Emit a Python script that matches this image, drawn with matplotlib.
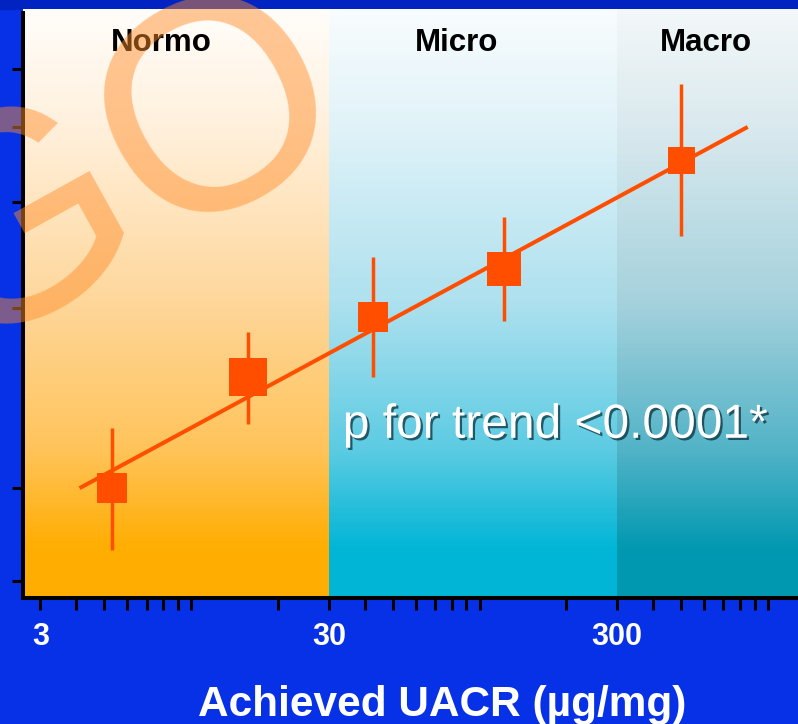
import numpy as np
import matplotlib
matplotlib.use('Agg')
import matplotlib.pyplot as plt
import matplotlib.patheffects as pe
from matplotlib.colors import LinearSegmentedColormap
from matplotlib.ticker import FixedLocator, LogLocator, NullFormatter, NullLocator
from matplotlib.patches import Rectangle

plt.rcParams['font.family'] = ['Liberation Sans', 'DejaVu Sans']

# albuminuria groups and their UACR limits
regions = ['Normo', 'Micro', 'Macro']
region_bounds = [(2.6, 30), (30, 300), (300, 1270)]
region_label_x = [7.9, 83, 610]

# achieved UACR and relative risk with 95% CI
uacr = [5.3, 15.7, 42.6, 121, 500]
risk = [1.0, 1.53, 1.93, 2.32, 3.52]
risk_lo = [0.79, 1.28, 1.53, 1.90, 2.63]
risk_hi = [1.26, 1.82, 2.43, 2.83, 4.71]

# fitted trend line end points
trend_x = [4.1, 850]
trend_y = [1.0, 4.0]

x_labels = ['3', '30', '300']
x_label_pos = [3, 30, 300]
y_tick_pos = [0.7, 1, 2, 3, 4, 5]

orange = '#ff4e00'
marker_px = [30, 38, 30, 34, 27]

fig = plt.figure(figsize=(7.98, 7.24), dpi=100)
fig.patch.set_facecolor('#0631e6')
fig.add_artist(Rectangle((0, 1 - 9 / 724), 1, 9 / 724, transform=fig.transFigure,
                         color='#0023c2', zorder=0))

ax = fig.add_axes([22.5 / 798, 126 / 724, 775.5 / 798, 589 / 724])
ax.set_xscale('log')
ax.set_yscale('log')
ax.set_xlim(2.6, 1270)
ax.set_ylim(0.656, 6.29)
ax.patch.set_visible(False)

# vertical gradients for each region (top -> bottom)
stops = {
    'Normo': ['#fffdfa', '#fff0dc', '#fed69a', '#ffc35a', '#ffad00', '#ffad00'],
    'Micro': ['#f8fcfd', '#e0f2f8', '#ade0ee', '#5ccbe2', '#00b5d5', '#00b5d5'],
    'Macro': ['#f3f7f8', '#d9e9ee', '#a5d1dc', '#52b3c7', '#0098b0', '#0098b0'],
}
pos = [0.0, 0.2, 0.5, 0.75, 0.92, 1.0]
ygrid = np.linspace(0, 1, 300)
for name, (x0, x1) in zip(regions, region_bounds):
    cmap = LinearSegmentedColormap.from_list(name, list(zip(pos, stops[name])))
    c = (1 - ygrid[:-1]).reshape(-1, 1)
    ax.pcolormesh([x0, x1], ygrid, c, cmap=cmap, vmin=0, vmax=1,
                  transform=ax.get_xaxis_transform(), zorder=0, rasterized=True)

for name, xc in zip(regions, region_label_x):
    ax.text(xc, 0.942, name, transform=ax.get_xaxis_transform(), ha='center',
            va='center', fontsize=22.5, fontweight='bold', color='black', zorder=3)

ax.plot(trend_x, trend_y, color=orange, lw=2.9, zorder=4, solid_capstyle='butt')
yerr = [np.array(risk) - np.array(risk_lo), np.array(risk_hi) - np.array(risk)]
ax.errorbar(uacr, risk, yerr=yerr, fmt='none', ecolor=orange, elinewidth=2.5,
            capsize=0, zorder=4)
ax.scatter(uacr, risk, marker='s', s=[(p * 0.72) ** 2 for p in marker_px],
           color=orange, linewidths=0, zorder=5)

ax.text(0.413, 0.272, 'p for trend <0.0001*', transform=ax.transAxes, ha='left',
        va='baseline', fontsize=34.5, color='white', zorder=6,
        path_effects=[pe.SimplePatchShadow(offset=(1.6, -1.6), shadow_rgbFace='#08323f',
                                           alpha=0.75), pe.Normal()])

# axes styling
for s in ['top', 'right']:
    ax.spines[s].set_visible(False)
for s in ['left', 'bottom']:
    ax.spines[s].set_linewidth(2.9)
    ax.spines[s].set_color('black')
ax.spines['left'].set_bounds(0.656, 6.19)

ax.xaxis.set_major_locator(FixedLocator(x_label_pos))
ax.set_xticklabels(x_labels)
ax.xaxis.set_minor_locator(LogLocator(base=10, subs=(1, 2, 4, 5, 6, 7, 8, 9)))
ax.xaxis.set_minor_formatter(NullFormatter())
ax.tick_params(axis='x', which='both', direction='out', length=8.6, width=2.2,
               color='black', pad=9, labelsize=22, labelcolor='white')
for lab in ax.get_xticklabels():
    lab.set_fontweight('bold')

ax.yaxis.set_major_locator(FixedLocator(y_tick_pos))
ax.yaxis.set_minor_locator(NullLocator())
ax.yaxis.set_major_formatter(NullFormatter())
ax.tick_params(axis='y', which='both', direction='out', length=8, width=2.2,
               color='black')

fig.text(442 / 798, 8 / 724, 'Achieved UACR (µg/mg)', ha='center', va='baseline',
         fontsize=30.5, fontweight='bold', color='white')

# translucent watermark lettering
fig.text(120 / 798, 1 - 175 / 724, 'GO', ha='center', va='center', rotation=29,
         rotation_mode='anchor', fontsize=215, color='#ff8c28', alpha=0.48, zorder=10)

fig.savefig('out.png', dpi=100, facecolor=fig.get_facecolor())
